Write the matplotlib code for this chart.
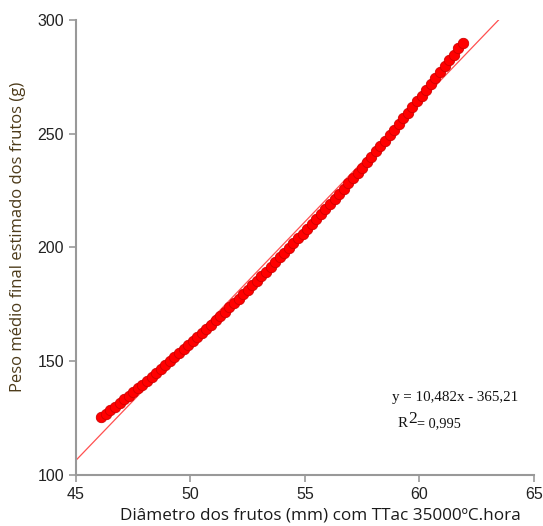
import numpy as np
import matplotlib.pyplot as plt

# diametro (mm), passo de 0.2
diam = np.round(np.arange(46.1, 62.0, 0.2), 1)
peso = [125.3, 126.8, 128.4, 130.0, 131.6, 133.2, 134.8, 136.4, 138.1, 139.7,
        141.4, 143.1, 144.8, 146.5, 148.2, 149.9, 151.7, 153.4, 155.2, 157.0,
        158.8, 160.6, 162.4, 164.3, 166.1, 168.0, 169.9, 171.8, 173.7, 175.6,
        177.5, 179.5, 181.4, 183.4, 185.4, 187.4, 189.4, 191.5, 193.5, 195.6,
        197.6, 199.7, 201.8, 204.0, 206.1, 208.2, 210.4, 212.6, 214.8, 217.0,
        219.2, 221.4, 223.7, 225.9, 228.2, 230.5, 232.8, 235.1, 237.5, 239.8,
        242.2, 244.6, 247.0, 249.4, 251.8, 254.3, 256.7, 259.2, 261.7, 264.2,
        266.7, 269.3, 271.8, 274.4, 277.0, 279.6, 282.2, 284.8, 287.5, 290.1]

a, b = 10.482, -365.21
x_fit = [45, (300 - b) / a]

fig = plt.figure(figsize=(5.43, 5.26), dpi=100)
ax = fig.add_axes([0.140, 0.097, 0.843, 0.865])

ax.plot(x_fit, [a * v + b for v in x_fit], color='#ff5050', lw=0.9, zorder=1)
ax.plot(diam, peso, 'o', ms=7.5, mfc='#ff0000', mec='#d00000', mew=0.6, zorder=2)

ax.set_xlim(45, 65)
ax.set_ylim(100, 300)
ax.set_xticks([45, 50, 55, 60, 65])
ax.set_yticks([100, 150, 200, 250, 300])

for s in ['top', 'right']:
    ax.spines[s].set_visible(False)
for s in ['left', 'bottom']:
    ax.spines[s].set_color('#999999')
    ax.spines[s].set_linewidth(1.5)
ax.tick_params(color='#999999', width=1.2, length=5, labelsize=11.5,
               labelcolor='#222222')
for lb in ax.get_xticklabels() + ax.get_yticklabels():
    lb.set_family('Liberation Sans')

ax.set_xlabel('Diâmetro dos frutos (mm) com TTac 35000ºC.hora', fontsize=12.3,
              family='Open Sans', color='#1a1a1a', labelpad=4)
ax.xaxis.label.set_x(0.533)
ax.set_ylabel('Peso médio final estimado dos frutos (g)', fontsize=12,
              family='Open Sans', color='#4d3b1a', labelpad=8)
ax.yaxis.label.set_y(0.523)

serif = dict(transform=ax.transAxes, family='Liberation Serif', color='#111111')
ax.text(0.69, 0.171, 'y = 10,482x - 365,21', fontsize=10.8, va='center', **serif)
ax.text(0.703, 0.114, 'R', fontsize=10.8, va='center', **serif)
ax.text(0.725, 0.124, '2', fontsize=12.5, va='center', **serif)
ax.text(0.745, 0.112, '= 0,995', fontsize=10.3, va='center', **serif)

fig.savefig('out.png', dpi=100)
